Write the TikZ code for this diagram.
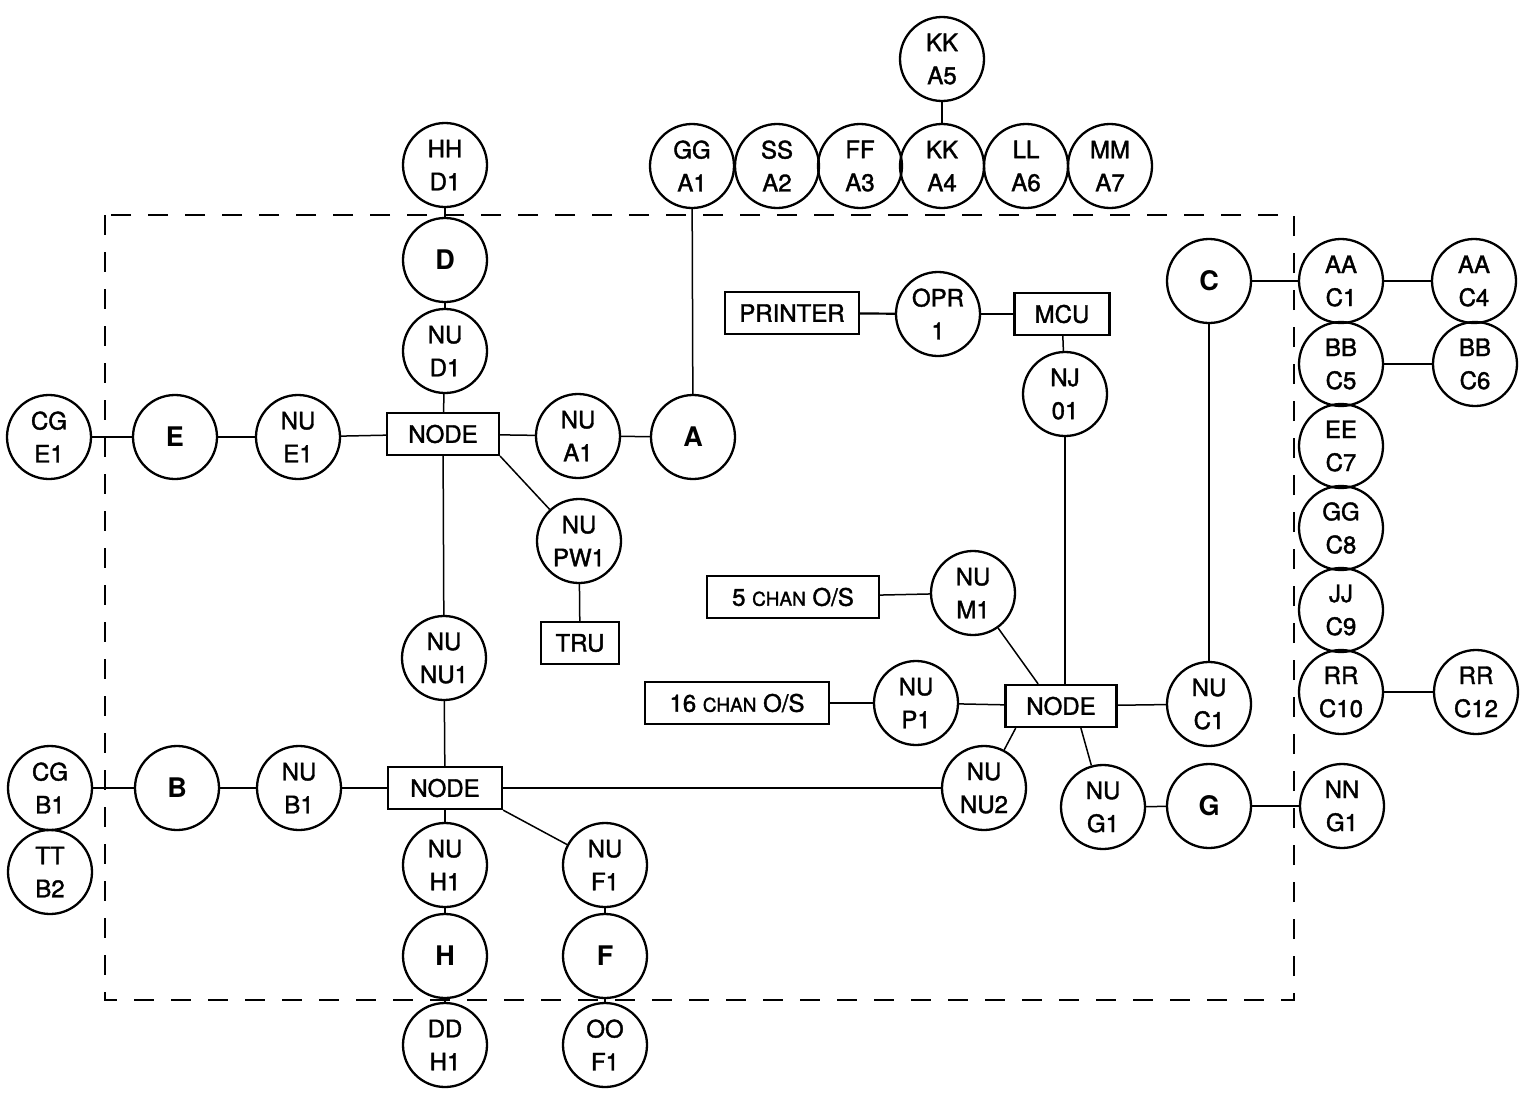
\documentclass[tikz,border=0pt]{standalone}
\usepackage{fontspec}
\setmainfont{TeX Gyre Heros}
\newfontfamily\labfam[FakeBold=1.6]{TeX Gyre Heros}
\usetikzlibrary{calc}
\newcommand{\labfont}{\labfam\fontsize{12}{16.5}\selectfont}
\newcommand{\bigfont}{\fontsize{13.5}{16}\selectfont\bfseries}
\tikzset{
  cir/.style={circle,draw,line width=1.15pt,minimum size=42pt,inner sep=0pt,align=center,font=\labfont},
  bigcir/.style={cir,font=\bigfont},
  boxnode/.style={rectangle,draw,line width=1.1pt,minimum height=21pt,inner sep=0pt,align=center,font=\labfont},
  conn/.style={line width=0.75pt},
  frame/.style={line width=0.8pt,dash pattern=on 10pt off 8.5pt}
}
\begin{document}
\begin{tikzpicture}[x=0.5pt,y=-0.5pt]
\useasboundingbox (0,0) rectangle (1520,1092);
% dashed frame
\draw[frame] (105,215) rectangle (1294,1000);
% top row
\node[cir] (hhd1) at (445,165) {HH\\D1};
\node[bigcir] (d) at (445,260) {D};
\node[cir] (nud1) at (445,351) {NU\\D1};
\node[boxnode,minimum width=56pt] (n1) at (443,434) {NODE};
\node[cir] (nua1) at (578,436) {NU\\A1};
\node[bigcir] (a) at (693,437) {A};
\node[cir] (gga1) at (692,166) {GG\\A1};
\node[cir] (ssa2) at (777,166) {SS\\A2};
\node[cir] (ffa3) at (860,166) {FF\\A3};
\node[cir] (kka4) at (942,166) {KK\\A4};
\node[cir] (lla6) at (1026,166) {LL\\A6};
\node[cir] (mma7) at (1110,166) {MM\\A7};
\node[cir] (kka5) at (942,59) {KK\\A5};
% left row E
\node[cir] (cge1) at (49,437) {CG\\E1};
\node[bigcir] (e) at (175,437) {E};
\node[cir] (nue1) at (298,437) {NU\\E1};
% PW1 / TRU
\node[cir] (pw1) at (579,541) {NU\\PW1};
\node[boxnode,minimum width=39pt] (tru) at (580,643) {TRU};
% middle column
\node[cir] (nu1) at (444,658) {NU\\NU1};
\node[boxnode,minimum width=57pt] (n3) at (445,788) {NODE};
\node[cir] (nub1) at (299,788) {NU\\B1};
\node[bigcir] (b) at (177,788) {B};
\node[cir] (cgb1) at (50,788) {CG\\B1};
\node[cir] (ttb2) at (50,872) {TT\\B2};
\node[cir] (nuh1) at (445,865) {NU\\H1};
\node[bigcir] (h) at (445,956) {H};
\node[cir] (ddh1) at (445,1045) {DD\\H1};
\node[cir] (nuf1) at (605,865) {NU\\F1};
\node[bigcir] (f) at (605,956) {F};
\node[cir] (oof1) at (605,1045) {OO\\F1};
% printer / MCU
\node[boxnode,minimum width=67pt] (printer) at (792,313) {PRINTER};
\node[cir] (opr) at (938,314) {OPR\\1};
\node[boxnode,minimum width=47.5pt] (mcu) at (1062,314) {MCU};
\node[cir] (nj) at (1065,394) {NJ\\01};
% right NODE cluster
\node[boxnode,minimum width=86pt] (five) at (793,597) {5 {\fontsize{9.5}{12}\selectfont CHAN} O/S};
\node[cir] (m1) at (973,593) {NU\\M1};
\node[boxnode,minimum width=92pt] (sixteen) at (737,703) {16 {\fontsize{9.5}{12}\selectfont CHAN} O/S};
\node[cir] (p1) at (916,703) {NU\\P1};
\node[boxnode,minimum width=55.5pt] (n2) at (1061,706) {NODE};
\node[cir] (c1n) at (1209,704) {NU\\C1};
\node[cir] (nu2) at (984,788) {NU\\NU2};
\node[cir] (g1n) at (1103,807) {NU\\G1};
\node[bigcir] (g) at (1209,806) {G};
\node[cir] (nng1) at (1342,806) {NN\\G1};
% C cluster
\node[bigcir] (c) at (1209,281) {C};
\node[cir] (aac1) at (1341,281) {AA\\C1};
\node[cir] (aac4) at (1474,281) {AA\\C4};
\node[cir] (bbc5) at (1341,364) {BB\\C5};
\node[cir] (bbc6) at (1475,364) {BB\\C6};
\node[cir] (eec7) at (1341,446) {EE\\C7};
\node[cir] (ggc8) at (1341,528) {GG\\C8};
\node[cir] (jjc9) at (1341,610) {JJ\\C9};
\node[cir] (rrc10) at (1341,692) {RR\\C10};
\node[cir] (rrc12) at (1476,692) {RR\\C12};
% connectors
\draw[conn] (hhd1) -- (d);
\draw[conn] (d) -- (nud1);
\draw[conn] (nud1) -- (n1);
\draw[conn] (n1) -- (nua1);
\draw[conn] (nua1) -- (a);
\draw[conn] (a) -- (gga1);
\draw[conn] (kka5) -- (kka4);
\draw[conn] (cge1) -- (e);
\draw[conn] (e) -- (nue1);
\draw[conn] (nue1) -- (n1);
\draw[conn] (n1.south east) -- (pw1);
\draw[conn] (pw1) -- (tru);
\draw[conn] (n1) -- (nu1);
\draw[conn] (nu1) -- (n3);
\draw[conn] (n3) -- (nub1);
\draw[conn] (nub1) -- (b);
\draw[conn] (b) -- (cgb1);
\draw[conn] (n3) -- (nuh1);
\draw[conn] (nuh1) -- (h);
\draw[conn] (h) -- (ddh1);
\draw[conn] (n3.south east) -- (nuf1);
\draw[conn] (nuf1) -- (f);
\draw[conn] (f) -- (oof1);
\draw[conn] (n3) -- (nu2);
\draw[conn,line width=1.1pt] (printer) -- (opr);
\draw[conn,line width=1.1pt] (opr) -- (mcu);
\draw[conn] (mcu) -- (nj);
\draw[conn] (nj) -- (nj |- n2.north);
\draw[conn] (five) -- (m1);
\draw[conn] (m1) -- (n2.136);
\draw[conn] (sixteen) -- (p1);
\draw[conn] (p1) -- (n2);
\draw[conn] (n2) -- (c1n);
\draw[conn] (c1n) -- (c);
\draw[conn] (c) -- (aac1);
\draw[conn] (aac1) -- (aac4);
\draw[conn] (bbc5) -- (bbc6);
\draw[conn] (rrc10) -- (rrc12);
\draw[conn] (n2.206) -- (nu2);
\draw[conn] (n2.-48) -- (g1n);
\draw[conn] (g1n) -- (g);
\draw[conn,line width=1.1pt] (g) -- (nng1);
\end{tikzpicture}
\end{document}
